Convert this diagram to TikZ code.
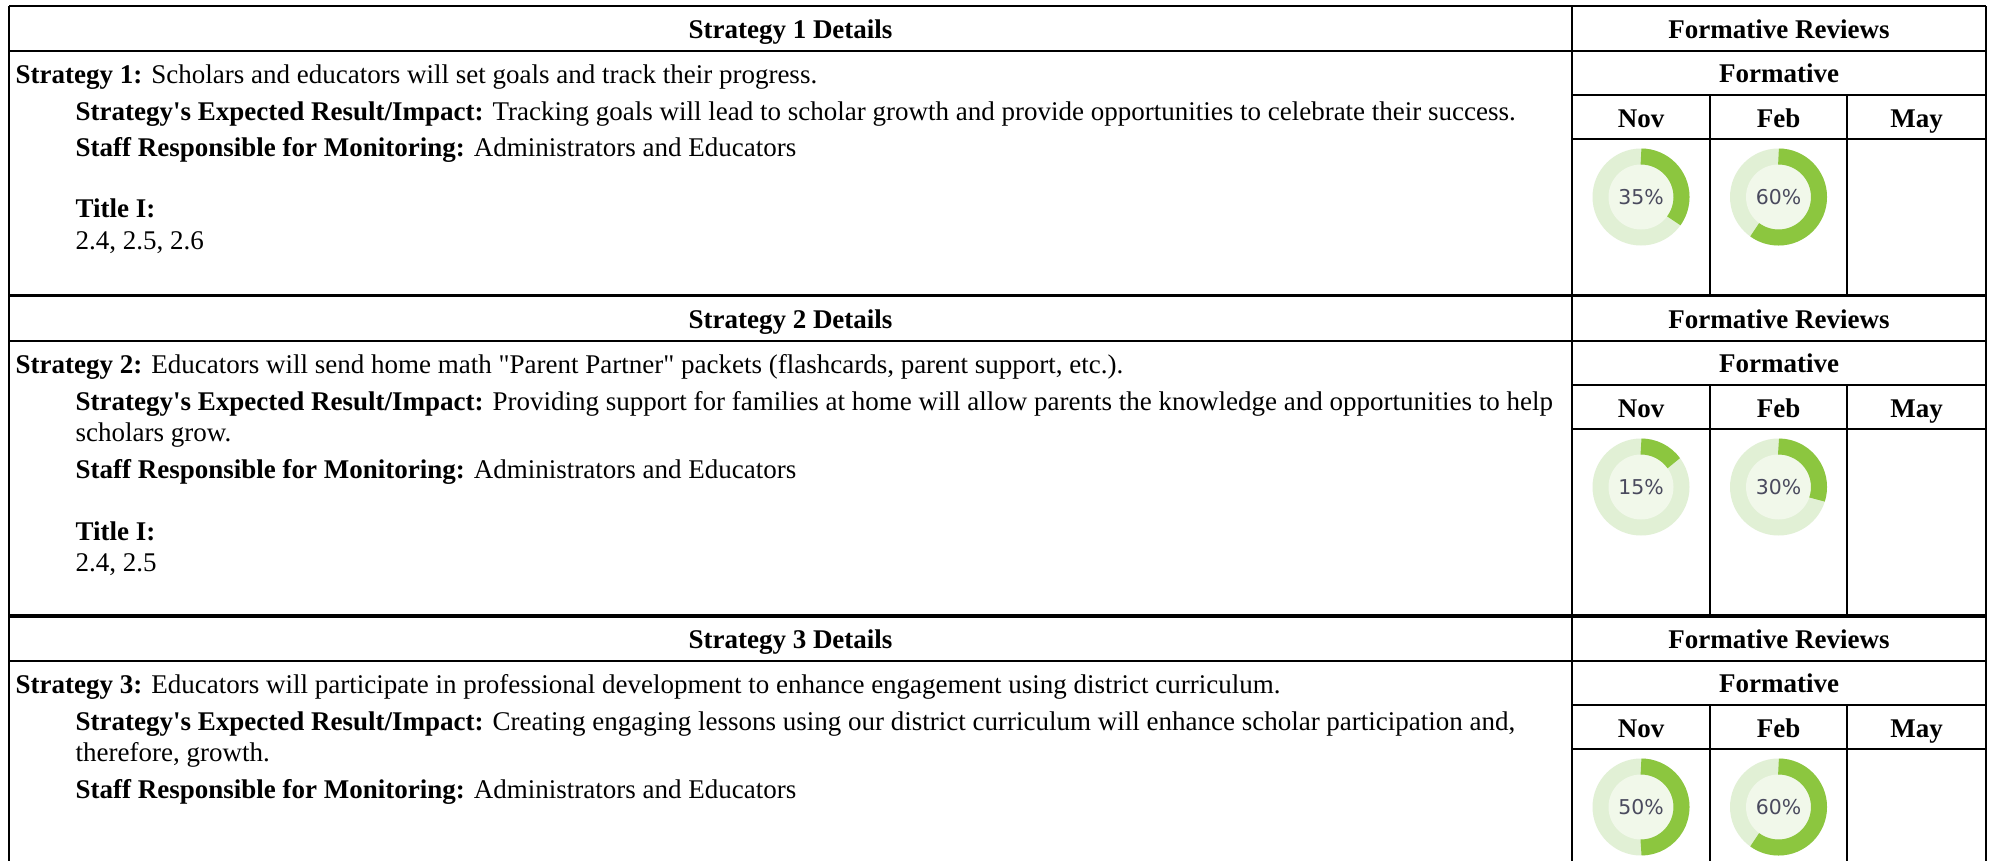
\documentclass[tikz,border=0pt]{standalone}
\usepackage{fontspec}
\setmainfont{Liberation Serif}[Ligatures=TeXOff]
\newfontfamily\pctfont{DejaVu Sans}
\definecolor{ringgreen}{HTML}{8CC63F}
\definecolor{ringtrack}{HTML}{E1F0D5}
\definecolor{ringcenter}{HTML}{F1F8EA}
\definecolor{pcttext}{HTML}{4A4A5E}
\newcommand\donutchart[4]{%
  \fill[ringtrack] (#2,#3) circle[radius=48.5];
  \fill[ringcenter] (#2,#3) circle[radius=32.5];
  \draw[ringgreen, line width=16bp] (#2,#3) ++(0,-40.5) arc[start angle=-90, end angle={-90+3.6*#4}, radius=40.5];
  \node[pct] (#1) at (#2,#3) {#4\%};
}
\begin{document}
\begin{tikzpicture}[x=1bp,y=-1bp,
  txt/.style={anchor=base west, inner sep=0pt, font=\fontsize{27.1}{32}\selectfont},
  hdr/.style={anchor=base, inner sep=0pt, font=\fontsize{27.1}{32}\selectfont\bfseries},
  pct/.style={inner sep=0pt, font=\pctfont\fontsize{20.5}{24}\selectfont, text=pcttext},
  gridline/.style={line width=2bp, black},
  sepline/.style={line width=3.5bp, black}]
\useasboundingbox (0,0) rectangle (1991,861);
\fill[white] (0,0) rectangle (1991,861);

% ---------- grid ----------
\draw[gridline] (9,6) -- (1986,6);
\foreach \T in {6,296,616}{
  \draw[gridline] (9,\T+45) -- (1986,\T+45);
  \draw[gridline] (1572,\T+89) -- (1986,\T+89);
  \draw[gridline] (1572,\T+133) -- (1986,\T+133);
}
\draw[gridline] (1710,95) -- (1710,296);
\draw[gridline] (1847,95) -- (1847,296);
\draw[gridline] (1710,385) -- (1710,616);
\draw[gridline] (1847,385) -- (1847,616);
\draw[gridline] (1710,705) -- (1710,861);
\draw[gridline] (1847,705) -- (1847,861);
\draw[sepline] (9,295.5) -- (1986,295.5);
\draw[sepline] (9,616) -- (1986,616);
\draw[gridline] (9,6) -- (9,861);
\draw[gridline] (1572,6) -- (1572,861);
\draw[gridline] (1986,6) -- (1986,861);

% ---------- section 1 ----------
\node[hdr] (h1) at (790.5,38) {Strategy 1 Details};
\node[hdr] (fr1) at (1779,38) {Formative Reviews};
\node[hdr] (f1) at (1779,82) {Formative};
\node[hdr] (nov1) at (1641,127) {Nov};
\node[hdr] (feb1) at (1778.5,127) {Feb};
\node[hdr] (may1) at (1916.5,127) {May};
\node[txt] (s1) at (15.5,83) {\textbf{Strategy 1:} Scholars and educators will set goals and track their progress.};
\node[txt] (e1) at (75.5,120) {\textbf{Strategy's Expected Result/Impact:} Tracking goals will lead to scholar growth and provide opportunities to celebrate their success.};
\node[txt] (m1) at (75.5,156) {\textbf{Staff Responsible for Monitoring:} Administrators and Educators};
\node[txt] (t1) at (75.5,217.5) {\textbf{Title I:}};
\node[txt] (n1) at (75.5,249.5) {2.4, 2.5, 2.6};
\donutchart{d1a}{1641}{197}{35}
\donutchart{d1b}{1778.5}{197}{60}

% ---------- section 2 ----------
\node[hdr] (h2) at (790.5,328) {Strategy 2 Details};
\node[hdr] (fr2) at (1779,328) {Formative Reviews};
\node[hdr] (f2) at (1779,372) {Formative};
\node[hdr] (nov2) at (1641,417) {Nov};
\node[hdr] (feb2) at (1778.5,417) {Feb};
\node[hdr] (may2) at (1916.5,417) {May};
\node[txt] (s2) at (15.5,373) {\textbf{Strategy 2:} Educators will send home math "Parent Partner" packets (flashcards, parent support, etc.).};
\node[txt] (e2) at (75.5,410) {\textbf{Strategy's Expected Result/Impact:} Providing support for families at home will allow parents the knowledge and opportunities to help};
\node[txt] (e2b) at (75.5,441) {scholars grow.};
\node[txt] (m2) at (75.5,478) {\textbf{Staff Responsible for Monitoring:} Administrators and Educators};
\node[txt] (t2) at (75.5,540) {\textbf{Title I:}};
\node[txt] (n2) at (75.5,571.5) {2.4, 2.5};
\donutchart{d2a}{1641}{487}{15}
\donutchart{d2b}{1778.5}{487}{30}

% ---------- section 3 ----------
\node[hdr] (h3) at (790.5,648) {Strategy 3 Details};
\node[hdr] (fr3) at (1779,648) {Formative Reviews};
\node[hdr] (f3) at (1779,692) {Formative};
\node[hdr] (nov3) at (1641,737) {Nov};
\node[hdr] (feb3) at (1778.5,737) {Feb};
\node[hdr] (may3) at (1916.5,737) {May};
\node[txt] (s3) at (15.5,693) {\textbf{Strategy 3:} Educators will participate in professional development to enhance engagement using district curriculum.};
\node[txt] (e3) at (75.5,730) {\textbf{Strategy's Expected Result/Impact:} Creating engaging lessons using our district curriculum will enhance scholar participation and,};
\node[txt] (e3b) at (75.5,761) {therefore, growth.};
\node[txt] (m3) at (75.5,798) {\textbf{Staff Responsible for Monitoring:} Administrators and Educators};
\donutchart{d3a}{1641}{807}{50}
\donutchart{d3b}{1778.5}{807}{60}
\end{tikzpicture}
\end{document}
